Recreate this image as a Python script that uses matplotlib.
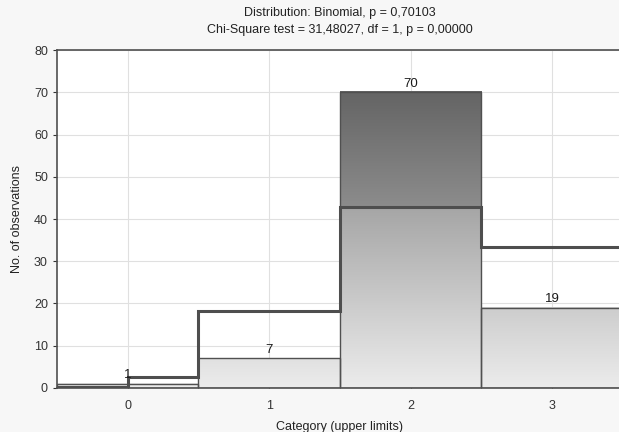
import numpy as np
import matplotlib.pyplot as plt
from matplotlib.colors import LinearSegmentedColormap

plt.rcParams['font.family'] = ['Liberation Sans', 'DejaVu Sans']

# observed counts and expected (binomial) counts per category
categories = [0, 1, 2, 3]
observed = [1, 7, 70, 19]
expected = [2.6, 18.25, 42.76, 33.42]
expected_left = 0.3  # level of the expected curve left of category 0

fig = plt.figure(figsize=(6.19, 4.32), dpi=100, facecolor='#f7f7f7')
ax = fig.add_axes([0.092, 0.102, 0.914, 0.782])
ax.set_facecolor('white')

light = LinearSegmentedColormap.from_list('light', ['#ececec', '#a2a2a2'])
dark = LinearSegmentedColormap.from_list('dark', ['#8c8c8c', '#646464'])
grad = np.linspace(0, 1, 256).reshape(-1, 1)

for c, o, e in zip(categories, observed, expected):
    low = min(o, e)
    # lower (light) part, colour follows the value axis
    ax.imshow(grad * low / 45.0, cmap=light, vmin=0, vmax=1, origin='lower',
              extent=[c - 0.5, c + 0.5, 0, low], aspect='auto', zorder=1,
              interpolation='bilinear')
    if o > e:
        ax.imshow(grad, cmap=dark, vmin=0, vmax=1, origin='lower',
                  extent=[c - 0.5, c + 0.5, e, o], aspect='auto', zorder=1,
                  interpolation='bilinear')
    ax.add_patch(plt.Rectangle((c - 0.5, 0), 1, o, fill=False,
                               edgecolor='#505050', lw=1.0, zorder=2))
    ax.text(c, o + 0.6, str(o), ha='center', va='bottom', fontsize=9.5,
            color='#1a1a1a', zorder=4)

# expected curve as a step line
xs = [-0.5, 0, 0]
ys = [expected_left, expected_left, expected[0]]
for c, e in zip(categories, expected):
    xs += [c + 0.5]
    ys += [e]
    if c < categories[-1]:
        xs += [c + 0.5]
        ys += [expected[c + 1]]
xs[-1] = 3.5
ax.plot(xs, ys, color='#4e4e4e', lw=2.2, zorder=3, solid_joinstyle='miter')

ax.set_xlim(-0.5, 3.5)
ax.set_ylim(0, 80)
ax.set_xticks(categories)
ax.set_xticks([0.5, 1.5, 2.5], minor=True)
ax.set_yticks(np.arange(0, 81, 10))
ax.grid(True, color='#e0e0e0', lw=0.8, zorder=0)
ax.set_axisbelow(True)

for s in ax.spines.values():
    s.set_color('#505050')
    s.set_linewidth(1.2)

ax.tick_params(axis='both', labelsize=9, colors='#333333', length=3)
ax.tick_params(axis='x', which='both', direction='in', length=3, pad=9)
ax.tick_params(axis='x', which='minor', length=2)

ax.set_xlabel('Category (upper limits)', fontsize=9, color='#222222', labelpad=6)
ax.set_ylabel('No. of observations', fontsize=9, color='#222222', labelpad=8)

fig.text(0.549, 0.97, 'Distribution: Binomial, p = 0,70103', ha='center',
         va='center', fontsize=9, color='#222222')
fig.text(0.549, 0.93, 'Chi-Square test = 31,48027, df = 1, p = 0,00000',
         ha='center', va='center', fontsize=9, color='#222222')

fig.savefig('out.png', dpi=100, facecolor=fig.get_facecolor())
